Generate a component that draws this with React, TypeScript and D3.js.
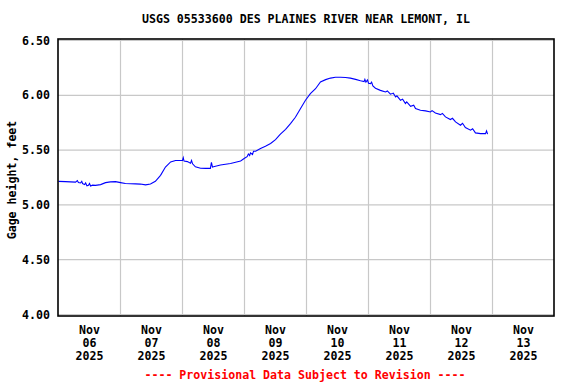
import React from 'react';
import { scaleLinear, scaleTime, line, timeDay, timeFormat } from 'd3';

// hours since Nov 6 2025 00:00
const hours = [
  0, 2.7, 4.6, 6.6, 7.3, 7.7, 8.5, 9.0, 9.3, 10.1, 10.5, 11.0, 11.6, 12.0, 12.4, 13.2, 14.3, 16.3, 18.2, 20.1,
  22.1, 24, 25.9, 27.9, 29.8, 31.7, 33.7, 35.6, 37.5, 39.5, 41.4, 43.4, 45.3, 48, 48.3, 48.6, 49.9, 51.1, 51.5, 51.9,
  53, 55, 56.9, 58.8, 59.2, 59.6, 60, 62.7, 66.6, 70.5, 72, 73, 73.5, 74, 74.3, 75.1, 75.5, 76.3, 78.2, 80.1,
  82.1, 84, 85.9, 87.9, 89.8, 91.7, 93.7, 95.6, 97.5, 99.5, 101.4, 103.4, 105.3, 107.2, 109.2, 111.1, 113, 115, 116.9, 118.3,
  118.6, 119, 119.6, 120, 120.8, 121.2, 121.7, 122.7, 124.6, 126.6, 127.3, 128.5, 129.6, 130.5, 131, 132.4, 133.2, 134.3, 134.8, 136.3,
  137.5, 138.2, 140.1, 142.1, 144, 144.6, 145.9, 147.9, 148.6, 149.8, 151.7, 152.5, 153.7, 155.6, 156.4, 157.5, 159.5, 160.3, 161.4, 163.4,
  165.3, 165.7, 166.1,
];
const gage = [
  5.215, 5.212, 5.21, 5.208, 5.222, 5.205, 5.2, 5.215, 5.195, 5.185, 5.2, 5.175, 5.18, 5.195, 5.172, 5.18, 5.178, 5.185, 5.203, 5.21,
  5.212, 5.203, 5.195, 5.193, 5.192, 5.19, 5.183, 5.19, 5.215, 5.27, 5.345, 5.392, 5.405, 5.405, 5.43, 5.4, 5.395, 5.38, 5.405, 5.375,
  5.348, 5.335, 5.333, 5.333, 5.389, 5.345, 5.348, 5.364, 5.378, 5.4, 5.425, 5.44, 5.465, 5.45, 5.475, 5.46, 5.49, 5.49, 5.515, 5.535,
  5.56, 5.595, 5.645, 5.69, 5.742, 5.8, 5.879, 5.955, 6.015, 6.06, 6.121, 6.143, 6.157, 6.165, 6.165, 6.162, 6.157, 6.145, 6.133, 6.125,
  6.145, 6.12, 6.14, 6.11, 6.106, 6.12, 6.085, 6.065, 6.045, 6.03, 6.04, 6.01, 6.02, 5.985, 5.995, 5.955, 5.965, 5.924, 5.94, 5.9,
  5.91, 5.879, 5.864, 5.858, 5.848, 5.86, 5.839, 5.824, 5.835, 5.803, 5.779, 5.79, 5.757, 5.727, 5.745, 5.706, 5.682, 5.695, 5.657, 5.65,
  5.65, 5.675, 5.645,
];
const yTicks = [4.0, 4.5, 5.0, 5.5, 6.0, 6.5];
const title = 'USGS 05533600 DES PLAINES RIVER NEAR LEMONT, IL';
const yLabel = 'Gage height, feet';
const footer = '---- Provisional Data Subject to Revision ----';

const W = 576, H = 384;
const FONT = '"DejaVu Sans Mono", monospace';
const start = new Date(2025, 10, 6);
const end = new Date(2025, 10, 14);

export default function App() {
  const x = scaleTime().domain([start, end]).range([58.5, 554.5]);
  const y = scaleLinear().domain([4, 6.5]).range([314.5, 40.5]);
  const days = timeDay.range(start, end);
  const pts = hours.map((h, i) => ({ t: new Date(start.getTime() + h * 3600e3), v: gage[i] }));
  const path = line<{ t: Date; v: number }>().x(d => x(d.t)).y(d => y(d.v))(pts) || '';
  const fmtMon = timeFormat('%b');
  const fmtDay = timeFormat('%d');
  const fmtYr = timeFormat('%Y');

  return (
    <svg width={W} height={H} style={{ position: 'fixed', left: 0, top: 0, background: '#fff' }}
      fontFamily={FONT} fontWeight="bold" fontSize={11.6}>
      <rect width={W} height={H} fill="#fff" />
      {/* grid */}
      {days.slice(1).map((d, i) => (
        <line key={'gx' + i} x1={x(d)} x2={x(d)} y1={39} y2={316} stroke="#c8c8c8" strokeWidth={1.2} />
      ))}
      {yTicks.map((t, i) => (
        <line key={'gy' + i} x1={58} x2={554} y1={y(t)} y2={y(t)} stroke="#c8c8c8" strokeWidth={1.2} />
      ))}
      <path d={path} fill="none" stroke="#0000ff" strokeWidth={1.1} />
      <rect x={58} y={39} width={496} height={277} fill="none" stroke="#000" strokeWidth={1.6} />
      {/* y ticks */}
      {yTicks.map((t, i) => (
        <text key={'ty' + i} x={50} y={y(t) + 4} textAnchor="end">{t.toFixed(2)}</text>
      ))}
      {/* x labels centred on each day */}
      {days.map((d, i) => {
        const cx = x(new Date(d.getTime() + 12 * 3600e3));
        return (
          <text key={'tx' + i} x={cx} textAnchor="middle">
            <tspan x={cx} y={334}>{fmtMon(d)}</tspan>
            <tspan x={cx} y={347}>{fmtDay(d)}</tspan>
            <tspan x={cx} y={360}>{fmtYr(d)}</tspan>
          </text>
        );
      })}
      <text x={306} y={23} textAnchor="middle">{title}</text>
      <text transform="translate(16,180) rotate(-90)" textAnchor="middle">{yLabel}</text>
      <text x={305} y={379} textAnchor="middle" fill="#ff0000">{footer}</text>
    </svg>
  );
}
